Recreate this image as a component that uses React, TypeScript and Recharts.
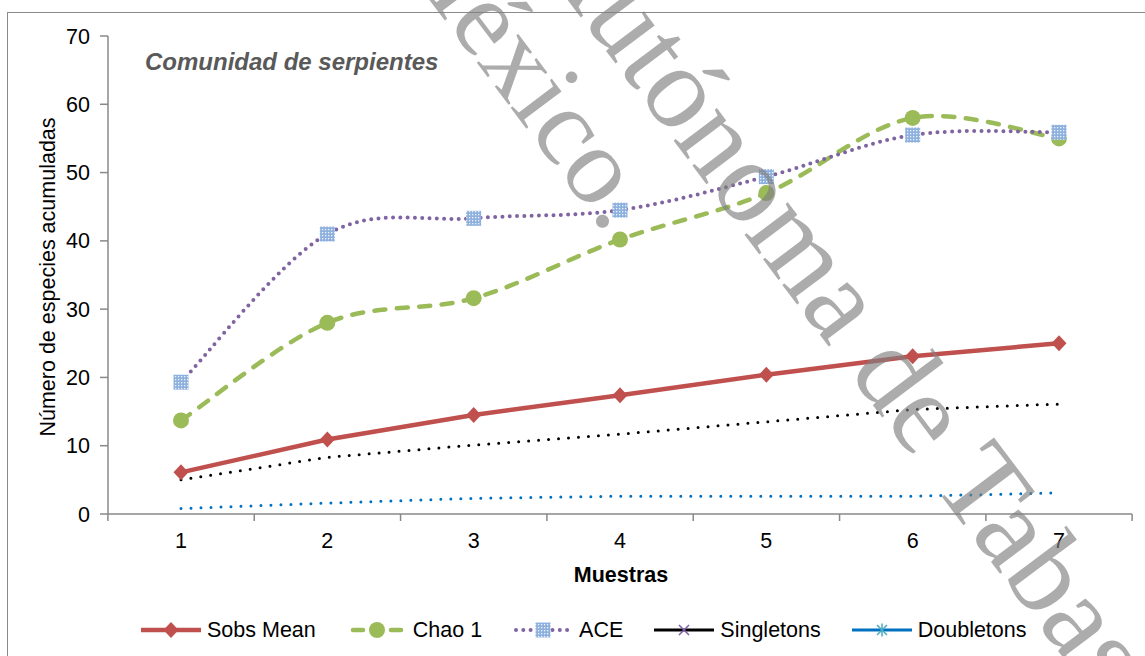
import { Label, Line, LineChart, XAxis, YAxis } from "recharts";

// Especies acumuladas por número de muestras
const MUESTRAS = ["1", "2", "3", "4", "5", "6", "7"];
const SOBS_MEAN = [6.1, 10.9, 14.5, 17.4, 20.4, 23.1, 25.0];
const CHAO_1 = [13.7, 28.0, 31.6, 40.2, 47.0, 58.0, 55.0];
const ACE = [19.3, 41.0, 43.3, 44.5, 49.4, 55.5, 55.9];
const SINGLETONS = [5.0, 8.3, 10.1, 11.7, 13.5, 15.3, 16.1];
const DOUBLETONS = [0.8, 1.6, 2.3, 2.6, 2.6, 2.6, 3.1];
const TICKS_Y = [0, 10, 20, 30, 40, 50, 60, 70];
const LEYENDA = ["Sobs Mean", "Chao 1", "ACE", "Singletons", "Doubletons"];

const EJE = "#898989";
const ROJO = "#C0504D";
const VERDE = "#9BBB59";
const MORADO = "#8064A2";
const AZUL = "#0070C0";
const FUENTE = "'Liberation Sans', Arial, sans-serif";
const TAM = 21.5;
// mitad del ancho de cada categoría (1024 px / 7 / 2)
const MEDIO_PASO = 73.1;

const datos = MUESTRAS.map((muestra, i) => ({
    muestra,
    sobs: SOBS_MEAN[i],
    chao1: CHAO_1[i],
    ace: ACE[i],
    singletons: SINGLETONS[i],
    doubletons: DOUBLETONS[i],
}));

// suavizado tipo Excel (Catmull-Rom con extremos repetidos)
const suave: any = (context: any) => {
    let pts: number[][] = [];
    return {
        areaStart() {},
        areaEnd() {},
        lineStart() {
            pts = [];
        },
        point(x: number, y: number) {
            pts.push([+x, +y]);
        },
        lineEnd() {
            if (!pts.length) return;
            context.moveTo(pts[0][0], pts[0][1]);
            for (let i = 0; i < pts.length - 1; i++) {
                const p0 = pts[Math.max(i - 1, 0)];
                const p1 = pts[i];
                const p2 = pts[i + 1];
                const p3 = pts[Math.min(i + 2, pts.length - 1)];
                context.bezierCurveTo(
                    p1[0] + (p2[0] - p0[0]) / 6,
                    p1[1] + (p2[1] - p0[1]) / 6,
                    p2[0] - (p3[0] - p1[0]) / 6,
                    p2[1] - (p3[1] - p1[1]) / 6,
                    p2[0],
                    p2[1]
                );
            }
        },
    };
};

function Rombo(props: any) {
    const { cx, cy, index } = props;
    if (cx == null || cy == null) return <g key={`r-${index}`} />;
    return (
        <polygon
            key={`r-${index}`}
            points={`${cx},${cy - 8} ${cx + 7.5},${cy} ${cx},${cy + 8} ${cx - 7.5},${cy}`}
            fill={ROJO}
        />
    );
}

function Circulo(props: any) {
    const { cx, cy, index } = props;
    if (cx == null || cy == null) return <g key={`c-${index}`} />;
    return <circle key={`c-${index}`} cx={cx} cy={cy} r={8} fill={VERDE} />;
}

function Cuadro(props: any) {
    const { cx, cy, index } = props;
    if (cx == null || cy == null) return <g key={`q-${index}`} />;
    return <rect key={`q-${index}`} x={cx - 7.5} y={cy - 7.5} width={15} height={15} fill="url(#tramaAce)" />;
}

function TickMuestra(props: any) {
    const { x, y, payload, index } = props;
    const ultimo = index === MUESTRAS.length - 1;
    return (
        <g>
            <line x1={x - MEDIO_PASO} x2={x - MEDIO_PASO} y1={y} y2={y + 7} stroke={EJE} strokeWidth={1.5} />
            {ultimo && (
                <line x1={x + MEDIO_PASO} x2={x + MEDIO_PASO} y1={y} y2={y + 7} stroke={EJE} strokeWidth={1.5} />
            )}
            <text x={x} y={y + 34} textAnchor="middle" fontSize={TAM} fill="#000" fontFamily={FUENTE}>
                {payload.value}
            </text>
        </g>
    );
}

function EtiquetaY() {
    return (
        <text
            transform="translate(55,277) rotate(-90)"
            textAnchor="middle"
            fontSize={TAM}
            fill="#000"
            fontFamily={FUENTE}
        >
            Número de especies acumuladas
        </text>
    );
}

function EtiquetaX() {
    return (
        <text x={621} y={582} textAnchor="middle" fontSize={TAM} fontWeight="bold" fill="#000" fontFamily={FUENTE}>
            Muestras
        </text>
    );
}

function IconoLeyenda({ i }: { i: number }) {
    if (i === 0) {
        return (
            <svg width={60} height={20}>
                <line x1={0} y1={10} x2={60} y2={10} stroke={ROJO} strokeWidth={4.5} />
                <polygon points="30,2 37.5,10 30,18 22.5,10" fill={ROJO} />
            </svg>
        );
    }
    if (i === 1) {
        return (
            <svg width={60} height={20}>
                <line x1={6} y1={10} x2={16} y2={10} stroke={VERDE} strokeWidth={4.5} strokeLinecap="round" />
                <line x1={44} y1={10} x2={54} y2={10} stroke={VERDE} strokeWidth={4.5} strokeLinecap="round" />
                <circle cx={30} cy={10} r={8} fill={VERDE} />
            </svg>
        );
    }
    if (i === 2) {
        return (
            <svg width={60} height={20}>
                <line x1={3} y1={10} x2={57} y2={10} stroke={MORADO} strokeWidth={4} strokeLinecap="round" strokeDasharray="0 7.3" />
                <rect x={22.5} y={2.5} width={15} height={15} fill="url(#tramaAce)" />
            </svg>
        );
    }
    if (i === 3) {
        return (
            <svg width={60} height={20}>
                <line x1={0} y1={10} x2={60} y2={10} stroke="#000" strokeWidth={3} />
                <path d="M25,5 L35,15 M35,5 L25,15" stroke="#7F5FA8" strokeWidth={1.5} />
            </svg>
        );
    }
    return (
        <svg width={60} height={20}>
            <line x1={0} y1={10} x2={60} y2={10} stroke={AZUL} strokeWidth={3} />
            <path d="M25,5 L35,15 M35,5 L25,15 M30,3.5 L30,16.5" stroke="#4BACC6" strokeWidth={1.5} />
        </svg>
    );
}

export default function App() {
    return (
        <div
            style={{
                position: "absolute",
                left: 0,
                top: 0,
                width: 1145,
                height: 656,
                overflow: "hidden",
                background: "#fff",
                fontFamily: FUENTE,
            }}
        >
            <svg width={0} height={0} style={{ position: "absolute" }}>
                <defs>
                    <pattern id="tramaAce" width={3} height={3} patternUnits="userSpaceOnUse">
                        <rect width={3} height={3} fill="#8DB0DE" />
                        <rect x={1} y={1} width={1.3} height={1.3} fill="#EEF3FA" />
                    </pattern>
                </defs>
            </svg>

            <div
                style={{
                    position: "absolute",
                    left: 7,
                    top: 12,
                    width: 1300,
                    height: 800,
                    border: "1.5px solid #8a8a8a",
                }}
            />

            <div style={{ position: "absolute", left: 0, top: 0 }}>
                <LineChart width={1145} height={656} data={datos} margin={{ top: 36, right: 13, bottom: 82, left: 0 }}>
                    <XAxis
                        dataKey="muestra"
                        height={60}
                        padding={{ left: 73, right: 73 }}
                        axisLine={{ stroke: EJE, strokeWidth: 1.5 }}
                        tickLine={false}
                        tickSize={0}
                        tickMargin={0}
                        tick={<TickMuestra />}
                        interval={0}
                    >
                        <Label content={<EtiquetaX />} />
                    </XAxis>
                    <YAxis
                        width={108}
                        domain={[0, 70]}
                        ticks={TICKS_Y}
                        interval={0}
                        axisLine={{ stroke: EJE, strokeWidth: 1.5 }}
                        tickLine={{ stroke: EJE, strokeWidth: 1.5 }}
                        tickSize={8}
                        tickMargin={10}
                        tick={{ fill: "#000", fontSize: TAM, fontFamily: FUENTE }}
                    >
                        <Label content={<EtiquetaY />} />
                    </YAxis>
                    <Line
                        dataKey="sobs"
                        type="linear"
                        stroke={ROJO}
                        strokeWidth={4.5}
                        dot={Rombo}
                        activeDot={false}
                        isAnimationActive={false}
                    />
                    <Line
                        dataKey="chao1"
                        type={suave}
                        stroke={VERDE}
                        strokeWidth={4.5}
                        strokeDasharray="11 11.5"
                        strokeLinecap="round"
                        dot={Circulo}
                        activeDot={false}
                        isAnimationActive={false}
                    />
                    <Line
                        dataKey="ace"
                        type={suave}
                        stroke={MORADO}
                        strokeWidth={4}
                        strokeDasharray="0 7.3"
                        strokeLinecap="round"
                        dot={Cuadro}
                        activeDot={false}
                        isAnimationActive={false}
                    />
                    <Line
                        dataKey="singletons"
                        type="linear"
                        stroke="#000"
                        strokeWidth={3}
                        strokeDasharray="0 10"
                        strokeLinecap="round"
                        dot={false}
                        activeDot={false}
                        isAnimationActive={false}
                    />
                    <Line
                        dataKey="doubletons"
                        type="linear"
                        stroke={AZUL}
                        strokeWidth={3}
                        strokeDasharray="0 10"
                        strokeLinecap="round"
                        dot={false}
                        activeDot={false}
                        isAnimationActive={false}
                    />
                </LineChart>
            </div>

            <div
                style={{
                    position: "absolute",
                    left: 141,
                    top: 618,
                    height: 24,
                    display: "flex",
                    alignItems: "center",
                    gap: 31,
                    fontSize: TAM,
                    lineHeight: "24px",
                    color: "#000",
                    whiteSpace: "nowrap",
                }}
            >
                {LEYENDA.map((nombre, i) => (
                    <div key={nombre} style={{ display: "flex", alignItems: "center", gap: 6 }}>
                        <IconoLeyenda i={i} />
                        <span>{nombre}</span>
                    </div>
                ))}
            </div>

            <svg
                width={1145}
                height={656}
                style={{ position: "absolute", left: 0, top: 0, pointerEvents: "none" }}
            >
                <text
                    x={145}
                    y={70}
                    fontSize={24}
                    fontWeight="bold"
                    fontStyle="italic"
                    fill="#595959"
                    fontFamily={FUENTE}
                >
                    Comunidad de serpientes
                </text>
                <g fontFamily="'Liberation Serif', 'Times New Roman', serif" fill="#7f7f7f" fillOpacity={0.65}>
                    <text transform="translate(388,-55) rotate(53)" fontSize={110}>México.</text>
                    <text transform="translate(530,-50) rotate(53)" fontSize={118}>Autónoma de Tabasco</text>
                </g>
            </svg>
        </div>
    );
}
